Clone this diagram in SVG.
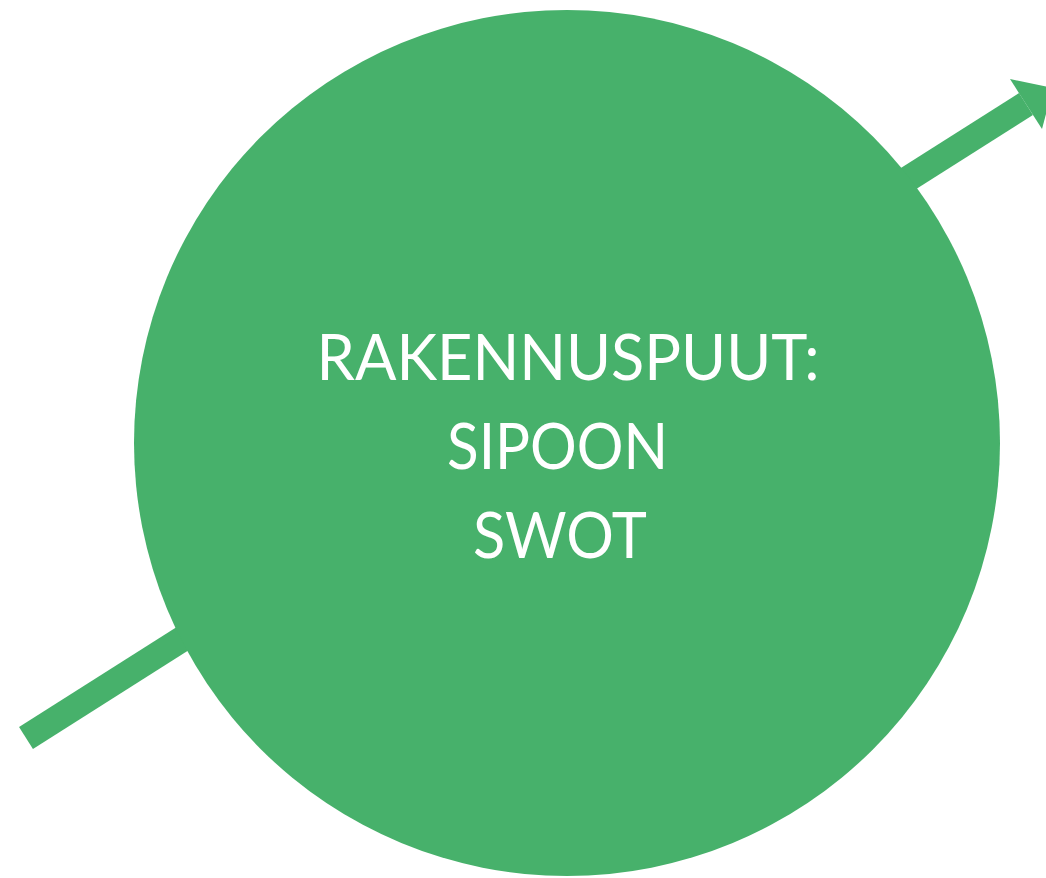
<svg xmlns="http://www.w3.org/2000/svg" width="1046" height="878" viewBox="0 0 1046 878">
<style>
.g{fill:#47B16B}
.t{font-family:Lato,"Open Sans",sans-serif;font-size:64px;fill:#FFFFFF;text-anchor:middle}
</style>
<rect width="1046" height="878" fill="#FFFFFF"/>
<g id="connectors">
<line x1="26" y1="738" x2="1026" y2="104" stroke="#47B16B" stroke-width="26"/>
<polygon class="g" points="1010,79 1053,88 1042,129"/>
</g>
<g id="node-circle">
<circle class="g" cx="567" cy="443" r="433"/>
<text class="t" x="568" y="380" textLength="503" lengthAdjust="spacingAndGlyphs">RAKENNUSPUUT:</text>
<text class="t" x="557.5" y="469" textLength="221" lengthAdjust="spacingAndGlyphs">SIPOON</text>
<text class="t" x="560" y="558" textLength="174" lengthAdjust="spacingAndGlyphs">SWOT</text>
</g>
</svg>
